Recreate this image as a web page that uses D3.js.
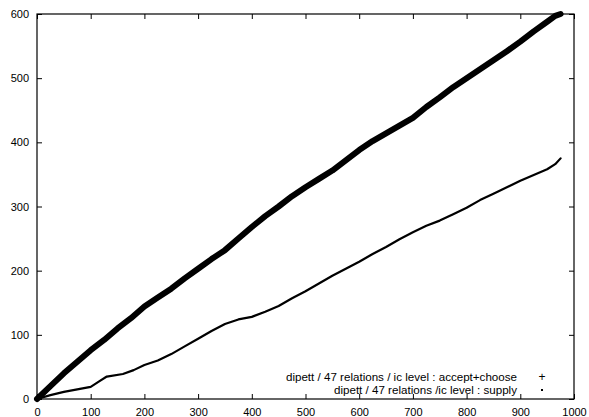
<!DOCTYPE html>
<html>
<head>
<meta charset="utf-8">
<script src="https://cdn.jsdelivr.net/npm/d3@7"></script>
<style>
  body { margin: 0; background: #fff; }
  text { font-family: "Liberation Sans", Arial, sans-serif; }
</style>
</head>
<body>
<svg id="svg" width="589" height="417"></svg>
<script>
// values
var acceptX = [0, 25, 50, 75, 100, 125, 150, 175, 200, 225, 250, 275, 300, 325, 350, 375, 400, 425, 450, 475, 500, 525, 550, 575, 600, 625, 650, 675, 700, 725, 750, 775, 800, 825, 850, 875, 900, 925, 950, 965, 975];
var acceptY = [0, 20, 40, 58, 76, 92, 110, 126, 144, 158, 172, 188, 203, 218, 232, 250, 268, 285, 300, 316, 330, 343, 356, 372, 388, 402, 414, 426, 438, 455, 470, 486, 500, 514, 528, 542, 557, 573, 588, 597, 600];
var supplyX = [0, 25, 50, 75, 100, 115, 130, 160, 180, 200, 225, 250, 275, 300, 325, 350, 375, 400, 425, 450, 475, 500, 525, 550, 575, 600, 625, 650, 675, 700, 725, 750, 775, 800, 825, 850, 875, 900, 925, 950, 965, 975];
var supplyY = [0, 6, 11, 15, 19, 27, 35, 39, 45, 53, 60, 70, 82, 94, 106, 117, 124, 128, 136, 145, 157, 168, 180, 192, 203, 214, 226, 237, 249, 260, 270, 278, 288, 298, 310, 320, 330, 340, 349, 358, 366, 375];
var xTicks = [0, 100, 200, 300, 400, 500, 600, 700, 800, 900, 1000];
var yTicks = [0, 100, 200, 300, 400, 500, 600];
var legendLabels = ["dipett / 47 relations / ic level : accept+choose", "dipett / 47 relations /ic level : supply"];

var svg = d3.select("#svg");
var plotLeft = 37, plotRight = 574, plotTop = 14, plotBottom = 399;

var x = d3.scaleLinear().domain([0, 1000]).range([plotLeft, plotRight]);
var y = d3.scaleLinear().domain([0, 600]).range([plotBottom, plotTop]);

// inward ticks, mirrored like gnuplot
var fmt = d3.format("d");
var bottomAxis = d3.axisBottom(x).tickValues(xTicks).tickFormat(fmt).tickSizeInner(-5).tickSizeOuter(0).tickPadding(9);
var topAxis = d3.axisTop(x).tickValues(xTicks).tickSizeInner(-5).tickSizeOuter(0).tickFormat("");
var leftAxis = d3.axisLeft(y).tickValues(yTicks).tickFormat(fmt).tickSizeInner(-5).tickSizeOuter(0).tickPadding(8);
var rightAxis = d3.axisRight(y).tickValues(yTicks).tickSizeInner(-5).tickSizeOuter(0).tickFormat("");

function styleAxis(g) {
  g.select(".domain").remove();
  g.selectAll("line").attr("stroke", "#000");
  g.selectAll("text").attr("font-size", 11).attr("fill", "#000")
    .attr("font-family", "'Liberation Sans', Arial, sans-serif");
}

svg.append("g").attr("transform", "translate(0," + plotBottom + ")").call(bottomAxis).call(styleAxis);
svg.append("g").attr("transform", "translate(0," + plotTop + ")").call(topAxis).call(styleAxis);
svg.append("g").attr("transform", "translate(" + plotLeft + ",0)").call(leftAxis).call(styleAxis);
svg.append("g").attr("transform", "translate(" + plotRight + ",0)").call(rightAxis).call(styleAxis);

svg.append("rect")
  .attr("x", plotLeft).attr("y", plotTop)
  .attr("width", plotRight - plotLeft).attr("height", plotBottom - plotTop)
  .attr("fill", "none").attr("stroke", "#000").attr("stroke-width", 1.2);

var line = d3.line().x(function(d) { return x(d[0]); }).y(function(d) { return y(d[1]); });

var accept = acceptX.map(function(v, i) { return [v, acceptY[i]]; });
var supply = supplyX.map(function(v, i) { return [v, supplyY[i]]; });

svg.append("path").datum(accept)
  .attr("d", line).attr("fill", "none").attr("stroke", "#000")
  .attr("stroke-width", 6).attr("stroke-linejoin", "round").attr("stroke-linecap", "round");

svg.append("path").datum(supply)
  .attr("d", line).attr("fill", "none").attr("stroke", "#000")
  .attr("stroke-width", 2.2).attr("stroke-linejoin", "round").attr("stroke-linecap", "round");

// legend
var legend = svg.append("g");
legend.selectAll("text").data(legendLabels).enter().append("text")
  .attr("x", 517)
  .attr("y", function(d, i) { return 381 + i * 12.5; })
  .attr("text-anchor", "end")
  .attr("font-size", 11.6)
  .text(function(d) { return d; });

legend.append("text").attr("x", 542).attr("y", 381).attr("text-anchor", "middle")
  .attr("font-size", 12).text("+");
legend.append("rect").attr("x", 541).attr("y", 389).attr("width", 2).attr("height", 2).attr("fill", "#000");
</script>
</body>
</html>
